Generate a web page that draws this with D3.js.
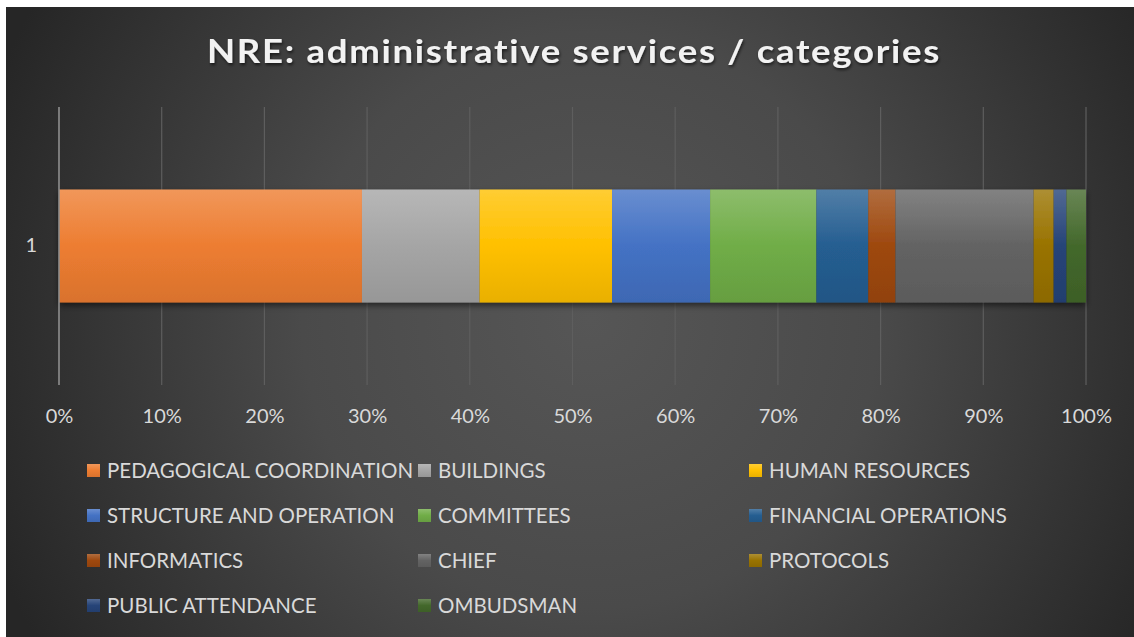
<!DOCTYPE html>
<html>
<head>
<meta charset="utf-8">
<script src="https://cdn.jsdelivr.net/npm/d3@7"></script>
<style>
  html, body { margin: 0; padding: 0; background: #ffffff; }
  svg { display: block; }
  text { font-family: Lato, "Open Sans", "Liberation Sans", sans-serif; }
</style>
</head>
<body>
<svg id="chart" width="1134" height="637"></svg>
<script>
// ---- data ----
const title = "NRE: administrative services / categories";
const rowLabels = ["1"];
const categories = [
  "PEDAGOGICAL COORDINATION", "BUILDINGS", "HUMAN RESOURCES",
  "STRUCTURE AND OPERATION", "COMMITTEES", "FINANCIAL OPERATIONS",
  "INFORMATICS", "CHIEF", "PROTOCOLS",
  "PUBLIC ATTENDANCE", "OMBUDSMAN"
];
const values = [29.5, 11.45, 12.9, 9.55, 10.35, 5.05, 2.65, 13.45, 1.95, 1.25, 1.9];
const tickValues = [0, 10, 20, 30, 40, 50, 60, 70, 80, 90, 100];
const colors = ["#ED7D31", "#A5A5A5", "#FFC000", "#4472C4", "#70AD47", "#255E91",
                "#9E480E", "#636363", "#997300", "#264478", "#43682B"];

// ---- setup ----
const svg = d3.select("#chart");
const W = 1134, H = 637;
const defs = svg.append("defs");

const bg = defs.append("radialGradient").attr("id", "bg")
  .attr("gradientUnits", "userSpaceOnUse")
  .attr("cx", 590).attr("cy", 320).attr("r", 640);
bg.append("stop").attr("offset", "0%").attr("stop-color", "#565656");
bg.append("stop").attr("offset", "45%").attr("stop-color", "#4a4a4a");
bg.append("stop").attr("offset", "100%").attr("stop-color", "#262626");

const shadow = defs.append("filter").attr("id", "shadow")
  .attr("x", "-5%").attr("y", "-20%").attr("width", "110%").attr("height", "150%");
shadow.append("feDropShadow").attr("dx", 0).attr("dy", 3).attr("stdDeviation", 3)
  .attr("flood-color", "#000").attr("flood-opacity", 0.55);

const tshadow = defs.append("filter").attr("id", "tshadow")
  .attr("x", "-5%").attr("y", "-30%").attr("width", "110%").attr("height", "160%");
tshadow.append("feDropShadow").attr("dx", 1).attr("dy", 2).attr("stdDeviation", 1.5)
  .attr("flood-color", "#000").attr("flood-opacity", 0.6);

categories.forEach((c, i) => {
  const base = d3.color(colors[i]);
  const g = defs.append("linearGradient").attr("id", "g" + i)
    .attr("x1", 0).attr("y1", 0).attr("x2", 0).attr("y2", 1);
  g.append("stop").attr("offset", "0%").attr("stop-color", d3.interpolateRgb(base, "#ffffff")(0.2));
  g.append("stop").attr("offset", "50%").attr("stop-color", base.formatHex());
  g.append("stop").attr("offset", "100%").attr("stop-color", base.darker(0.25).formatHex());
});

// background
svg.append("rect").attr("x", 6).attr("y", 7).attr("width", W - 6).attr("height", H - 7)
  .attr("fill", "url(#bg)");

// title
svg.append("text")
  .attr("x", 574).attr("y", 63)
  .attr("text-anchor", "middle")
  .attr("font-size", 32).attr("font-weight", 700)
  .attr("letter-spacing", 1.5)
  .attr("fill", "#f2f2f2")
  .attr("filter", "url(#tshadow)")
  .attr("textLength", 734).attr("lengthAdjust", "spacingAndGlyphs")
  .text(title);

// scales
const x = d3.scaleLinear().domain([0, 100]).range([59, 1086]);
const y = d3.scaleBand().domain(rowLabels).range([107, 385]).padding(0.422);

// gridlines
svg.append("g").selectAll("line").data(tickValues.slice(1)).join("line")
  .attr("x1", d => x(d)).attr("x2", d => x(d))
  .attr("y1", 107).attr("y2", 385)
  .attr("stroke", "#5e5e5e").attr("stroke-width", 1.2);

// stacked bar
const row = {};
categories.forEach((c, i) => row[c] = values[i]);
const stack = d3.stack().keys(categories)([Object.assign({ label: rowLabels[0] }, row)]);

svg.append("g").attr("filter", "url(#shadow)")
  .selectAll("rect").data(stack).join("rect")
  .attr("x", s => x(s[0][0]))
  .attr("width", s => x(s[0][1]) - x(s[0][0]))
  .attr("y", y(rowLabels[0]))
  .attr("height", y.bandwidth())
  .attr("fill", (s, i) => `url(#g${i})`);

// vertical axis line
svg.append("line")
  .attr("x1", x(0)).attr("x2", x(0)).attr("y1", 107).attr("y2", 385)
  .attr("stroke", "#8f8f8f").attr("stroke-width", 1.6);

// x axis labels
const xAxis = d3.axisBottom(x).tickValues(tickValues).tickSize(0).tickPadding(0)
  .tickFormat(d => d + "%");
const xg = svg.append("g").attr("transform", "translate(0,405)").call(xAxis);
xg.select(".domain").remove();
xg.selectAll("text").attr("font-size", 20).attr("fill", "#d9d9d9")
  .attr("font-family", "Lato, 'Open Sans', sans-serif").attr("dy", "0.9em");

// y axis label
const yAxis = d3.axisLeft(y).tickSize(0).tickPadding(0);
const yg = svg.append("g").attr("transform", "translate(37,0)").call(yAxis);
yg.select(".domain").remove();
yg.selectAll("text").attr("font-size", 20).attr("fill", "#d9d9d9")
  .attr("font-family", "Lato, 'Open Sans', sans-serif");

// legend
const colX = [87, 418, 749];
const rowY = [471, 516, 561, 606];
const lg = svg.append("g").selectAll("g").data(categories).join("g")
  .attr("transform", (d, i) => `translate(${colX[i % 3]},${rowY[Math.floor(i / 3)]})`);
lg.append("rect").attr("x", 0).attr("y", -7).attr("width", 13).attr("height", 13)
  .attr("fill", (d, i) => `url(#g${i})`);
lg.append("text").attr("x", 20).attr("y", 0).attr("dy", "0.36em")
  .attr("font-size", 20.5).attr("fill", "#d9d9d9")
  .text(d => d);
</script>
</body>
</html>
